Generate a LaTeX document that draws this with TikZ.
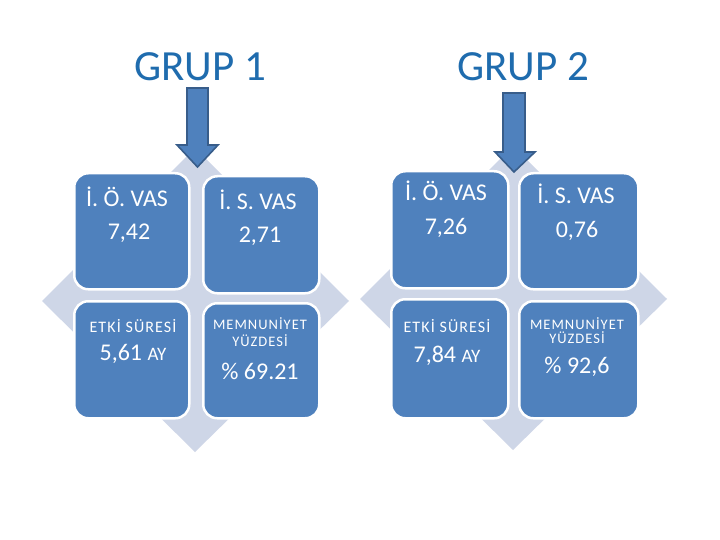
\documentclass[tikz,border=0pt]{standalone}
\usepackage{fontspec}
\setmainfont{Carlito}
\newfontfamily\widefont[LetterSpace=7]{Carlito}
\definecolor{boxblue}{HTML}{4F81BD}
\definecolor{arrowedge}{HTML}{385D8A}
\definecolor{diagray}{HTML}{CED6E7}
\definecolor{titleblue}{HTML}{1F6CAE}
\begin{document}
\begin{tikzpicture}[x=1pt,y=-1pt,
 box/.style={draw=white, line width=2.5pt, fill=boxblue, rounded corners=14pt, anchor=north west, inner sep=0pt},
 dia/.style={fill=diagray},
 arr/.style={fill=boxblue, draw=arrowedge, line width=1.6pt, line join=miter},
 title/.style={text=titleblue, font=\fontsize{43}{46}\selectfont, inner sep=0pt},
 big/.style={text=white, font=\fontsize{24}{26}\selectfont, inner sep=0pt},
 small/.style={text=white, font=\widefont\fontsize{16}{18}\selectfont, inner sep=0pt},
 tiny/.style={text=white, font=\widefont\fontsize{14.5}{16}\selectfont, inner sep=0pt},
]
\useasboundingbox (0,0) rectangle (720,540);
\fill[white] (0,0) rectangle (720,540);

% titles
\node[title] (t1) at (200,67) {GRUP 1};
\node[title] (t2) at (523,67) {GRUP 2};

% diamonds
\fill[dia] (195,148) -- (349,301) -- (195,452) -- (42,301) -- cycle;
\fill[dia] (513,146) -- (667,299) -- (513,450) -- (360,299) -- cycle;

% group 1 boxes
\node[box, minimum width=115pt, minimum height=116pt] (a1) at (73,172) {};
\node[box, minimum width=116pt, minimum height=117pt] (b1) at (202,175) {};
\node[box, minimum width=115pt, minimum height=117pt] (c1) at (73,300) {};
\node[box, minimum width=116pt, minimum height=115pt] (d1) at (202,302) {};

% group 2 boxes
\node[box, minimum width=117pt, minimum height=117pt] (a2) at (390,170) {};
\node[box, minimum width=119pt, minimum height=116pt] (b2) at (518,172) {};
\node[box, minimum width=117pt, minimum height=119pt] (c2) at (390,298) {};
\node[box, minimum width=119pt, minimum height=117pt] (d2) at (518,300) {};

% arrows
\draw[arr] (187,88) -- (208,88) -- (208,145) -- (218,145) -- (197.5,167) -- (177,145) -- (187,145) -- cycle;
\draw[arr] (503,93) -- (525,93) -- (525,152) -- (535,152) -- (514,172) -- (495,152) -- (503,152) -- cycle;

% group 1 texts
\node[big] (a1t) at (127,197) {İ. Ö. VAS};
\node[big] (a1v) at (129,233) {7,42};
\node[big] (b1t) at (258,200) {İ. S. VAS};
\node[big] (b1v) at (260,236) {2,71};
\node[small] (c1t) at (133,326) {ETKİ SÜRESİ};
\node[big] (c1v) at (133,354) {5,61 {\fontsize{19}{21}\selectfont AY}};
\node[tiny] (d1t) at (260,324) {MEMNUNİYET};
\node[tiny] (d1u) at (260,341) {YÜZDESİ};
\node[big] (d1v) at (260,371) {\% 69.21};

% group 2 texts
\node[big] (a2t) at (446,191) {İ. Ö. VAS};
\node[big] (a2v) at (446,228) {7,26};
\node[big] (b2t) at (576,194) {İ. S. VAS};
\node[big] (b2v) at (577,231) {0,76};
\node[small] (c2t) at (447,326) {ETKİ SÜRESİ};
\node[big] (c2v) at (447,356) {7,84 {\fontsize{19}{21}\selectfont AY}};
\node[tiny] (d2t) at (577,324) {MEMNUNİYET};
\node[tiny] (d2u) at (577,338) {YÜZDESİ};
\node[big] (d2v) at (577,367) {\% 92,6};
\end{tikzpicture}
\end{document}
